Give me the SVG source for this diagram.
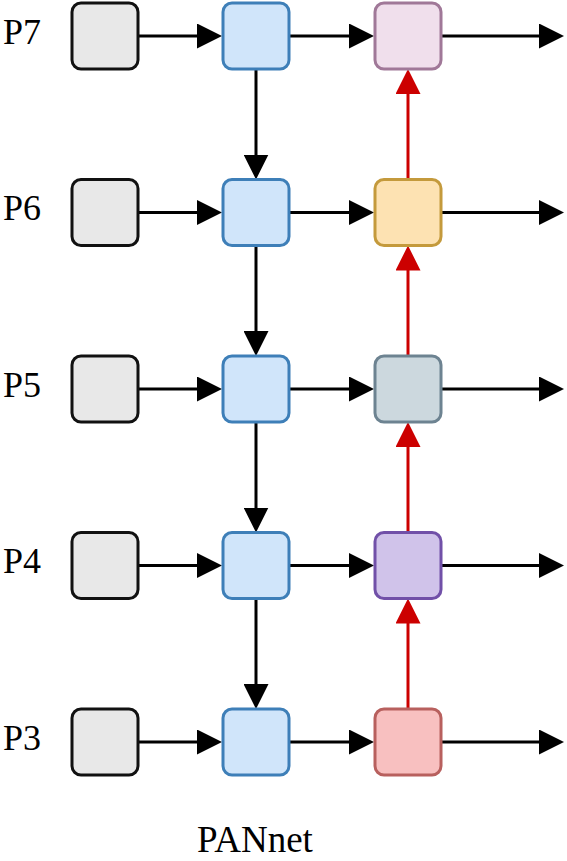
<svg xmlns="http://www.w3.org/2000/svg" width="567" height="861" viewBox="0 0 567 861">
<style>
.box{stroke-width:3}
.gray{fill:#e8e8e8;stroke:#111111}
.blue{fill:#d0e5fa;stroke:#3e7fb8}
.lbl{font-family:"Liberation Serif","Times New Roman",serif;font-size:36px;fill:#000}
.blk{stroke:#000;stroke-width:3;fill:none}
.red{stroke:#cc0000;stroke-width:3;fill:none}
</style>
<defs>
<marker id="ab" markerUnits="userSpaceOnUse" markerWidth="25" markerHeight="25" refX="19" refY="12.5" orient="auto" viewBox="0 0 25 25">
<path d="M0,0 L25,12.5 L0,25 Z" fill="#000"/>
</marker>
<marker id="ar" markerUnits="userSpaceOnUse" markerWidth="25" markerHeight="25" refX="19" refY="12.5" orient="auto" viewBox="0 0 25 25">
<path d="M0,0 L25,12.5 L0,25 Z" fill="#cc0000"/>
</marker>
</defs>
<g id="labels">
<text class="lbl" x="3" y="44">P7</text>
<text class="lbl" x="3" y="220">P6</text>
<text class="lbl" x="3" y="397">P5</text>
<text class="lbl" x="3" y="573">P4</text>
<text class="lbl" x="3" y="750">P3</text>
<text class="lbl" x="255" y="852" text-anchor="middle" style="font-size:37px">PANnet</text>
</g>
<g id="connectors">
<line class="blk" x1="138" y1="36" x2="216" y2="36" marker-end="url(#ab)"/>
<line class="blk" x1="289" y1="36" x2="368" y2="36" marker-end="url(#ab)"/>
<line class="blk" x1="441" y1="36" x2="558" y2="36" marker-end="url(#ab)"/>
<line class="blk" x1="138" y1="212.5" x2="216" y2="212.5" marker-end="url(#ab)"/>
<line class="blk" x1="289" y1="212.5" x2="368" y2="212.5" marker-end="url(#ab)"/>
<line class="blk" x1="441" y1="212.5" x2="558" y2="212.5" marker-end="url(#ab)"/>
<line class="blk" x1="138" y1="389" x2="216" y2="389" marker-end="url(#ab)"/>
<line class="blk" x1="289" y1="389" x2="368" y2="389" marker-end="url(#ab)"/>
<line class="blk" x1="441" y1="389" x2="558" y2="389" marker-end="url(#ab)"/>
<line class="blk" x1="138" y1="565.5" x2="216" y2="565.5" marker-end="url(#ab)"/>
<line class="blk" x1="289" y1="565.5" x2="368" y2="565.5" marker-end="url(#ab)"/>
<line class="blk" x1="441" y1="565.5" x2="558" y2="565.5" marker-end="url(#ab)"/>
<line class="blk" x1="138" y1="742" x2="216" y2="742" marker-end="url(#ab)"/>
<line class="blk" x1="289" y1="742" x2="368" y2="742" marker-end="url(#ab)"/>
<line class="blk" x1="441" y1="742" x2="558" y2="742" marker-end="url(#ab)"/>
<line class="blk" x1="256" y1="69" x2="256" y2="173.5" marker-end="url(#ab)"/>
<line class="blk" x1="256" y1="245.5" x2="256" y2="350" marker-end="url(#ab)"/>
<line class="blk" x1="256" y1="422" x2="256" y2="526.5" marker-end="url(#ab)"/>
<line class="blk" x1="256" y1="598.5" x2="256" y2="703" marker-end="url(#ab)"/>
<line class="red" x1="408" y1="709" x2="408" y2="604.5" marker-end="url(#ar)"/>
<line class="red" x1="408" y1="532.5" x2="408" y2="428" marker-end="url(#ar)"/>
<line class="red" x1="408" y1="356" x2="408" y2="251.5" marker-end="url(#ar)"/>
<line class="red" x1="408" y1="179.5" x2="408" y2="75" marker-end="url(#ar)"/>
</g>
<g id="p7-in"><rect class="box gray" x="72" y="3" width="66" height="66" rx="9"/></g>
<g id="p6-in"><rect class="box gray" x="72" y="179.5" width="66" height="66" rx="9"/></g>
<g id="p5-in"><rect class="box gray" x="72" y="356" width="66" height="66" rx="9"/></g>
<g id="p4-in"><rect class="box gray" x="72" y="532.5" width="66" height="66" rx="9"/></g>
<g id="p3-in"><rect class="box gray" x="72" y="709" width="66" height="66" rx="9"/></g>
<g id="p7-td"><rect class="box blue" x="223" y="3" width="66" height="66" rx="9"/></g>
<g id="p6-td"><rect class="box blue" x="223" y="179.5" width="66" height="66" rx="9"/></g>
<g id="p5-td"><rect class="box blue" x="223" y="356" width="66" height="66" rx="9"/></g>
<g id="p4-td"><rect class="box blue" x="223" y="532.5" width="66" height="66" rx="9"/></g>
<g id="p3-td"><rect class="box blue" x="223" y="709" width="66" height="66" rx="9"/></g>
<g id="p7-out"><rect class="box" x="375" y="3" width="66" height="66" rx="9" fill="#f0dfec" stroke="#a07898"/></g>
<g id="p6-out"><rect class="box" x="375" y="179.5" width="66" height="66" rx="9" fill="#fde2b2" stroke="#c49a3c"/></g>
<g id="p5-out"><rect class="box" x="375" y="356" width="66" height="66" rx="9" fill="#ccd8de" stroke="#6d8391"/></g>
<g id="p4-out"><rect class="box" x="375" y="532.5" width="66" height="66" rx="9" fill="#d0c3ea" stroke="#7150a8"/></g>
<g id="p3-out"><rect class="box" x="375" y="709" width="66" height="66" rx="9" fill="#f8c0c0" stroke="#b8605e"/></g>
</svg>
